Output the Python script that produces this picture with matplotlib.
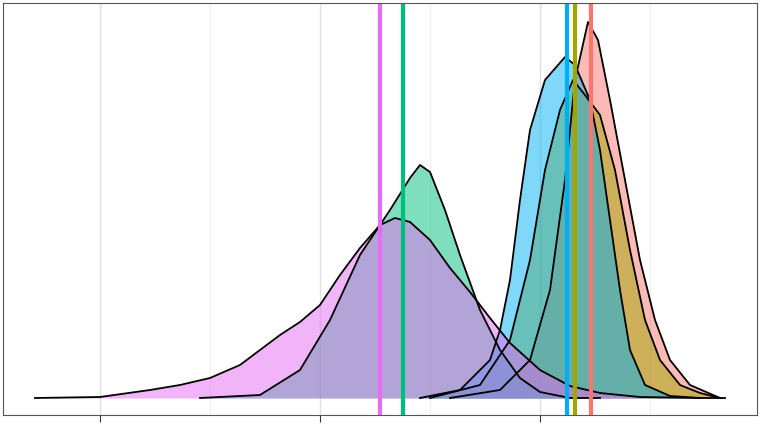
import matplotlib
matplotlib.use("Agg")
import matplotlib.pyplot as plt

# density curves (x position, density height)
red_x = [450, 500, 530, 550, 565, 575, 588, 598, 610, 625, 640, 655, 670, 690, 720]
red_y = [0, 0.08, 0.38, 1.08, 2.18, 3.18, 3.76, 3.58, 2.98, 2.18, 1.38, 0.78, 0.38, 0.13, 0]
olive_x = [430, 480, 510, 530, 545, 560, 573, 585, 600, 615, 630, 645, 660, 680, 700, 720]
olive_y = [0, 0.13, 0.58, 1.38, 2.28, 2.88, 3.18, 3.03, 2.83, 2.28, 1.48, 0.78, 0.38, 0.13, 0.05, 0]
green_x = [200, 260, 300, 330, 360, 390, 410, 420, 430, 445, 460, 480, 500, 520, 540, 570, 600]
green_y = [0, 0.03, 0.28, 0.78, 1.43, 1.88, 2.20, 2.33, 2.26, 1.88, 1.43, 0.88, 0.48, 0.20, 0.06, 0, 0]
blue_x = [420, 460, 490, 500, 510, 520, 530, 545, 565, 575, 590, 600, 610, 620, 630, 645, 670, 700]
blue_y = [0, 0.08, 0.38, 0.68, 1.18, 1.98, 2.68, 3.18, 3.41, 3.33, 2.98, 2.48, 1.78, 1.08, 0.48, 0.13, 0.02, 0]
pink_x = [35, 100, 150, 180, 210, 240, 260, 280, 300, 320, 340, 360, 380, 395, 410, 430,
          450, 470, 490, 510, 540, 570, 600, 640, 700, 725]
pink_y = [0, 0.01, 0.08, 0.13, 0.20, 0.33, 0.48, 0.63, 0.76, 0.93, 1.23, 1.50, 1.73, 1.80,
          1.76, 1.58, 1.30, 1.06, 0.80, 0.55, 0.28, 0.12, 0.05, 0.01, 0, 0]

means = [591, 575, 403, 567, 380]
colors = ["#F8766D", "#A3A500", "#00BF7D", "#00B0F6", "#E76BF3"]

fig = plt.figure(figsize=(7.6, 4.26), dpi=100)
ax = fig.add_axes([3 / 760, 11 / 426, 754 / 760, 412 / 426])

series = [(red_x, red_y), (olive_x, olive_y), (green_x, green_y), (blue_x, blue_y), (pink_x, pink_y)]
for (xs, ys), c in zip(series, colors):
    ax.fill_between(xs, ys, 0, color=c, alpha=0.5, linewidth=0)
    ax.plot(xs, ys, color="black", lw=1.3)

for m, c in zip(means, colors):
    ax.axvline(m, color=c, lw=3)

ax.set_xlim(3, 757)
ax.set_ylim(-0.17, 3.95)
ax.set_xticks([100, 320, 540])
ax.set_xticks([210, 430, 650], minor=True)
ax.set_xticklabels([])
ax.set_yticks([])
ax.grid(True, which="major", axis="x", color="#e0e0e0", lw=1)
ax.grid(True, which="minor", axis="x", color="#f0f0f0", lw=0.8)
ax.set_axisbelow(True)
ax.tick_params(axis="x", which="major", length=5, color="#333333")
ax.tick_params(axis="x", which="minor", length=0)
for s in ax.spines.values():
    s.set_color("#555555")

fig.savefig("out.png", dpi=100)
